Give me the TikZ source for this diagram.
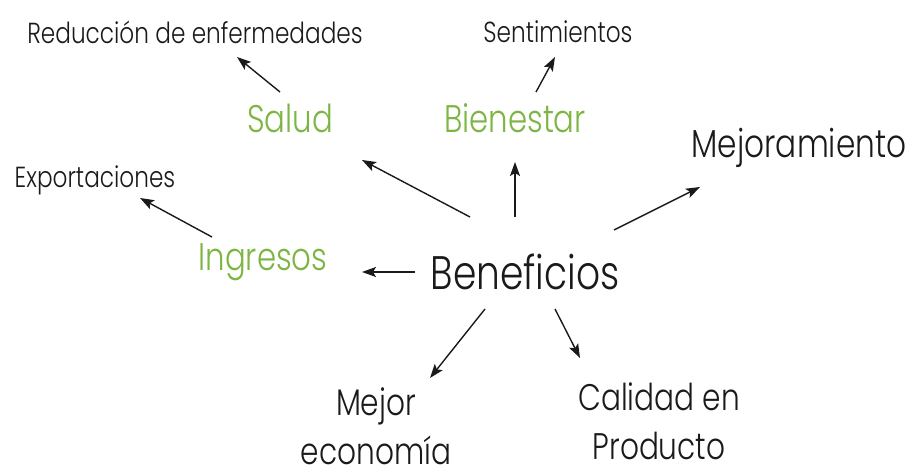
\documentclass[tikz,border=0pt]{standalone}
\usepackage{fontspec}
\setmainfont{Poppins}[UprightFont=* Light, FakeStretch=0.8]
\usetikzlibrary{arrows.meta}
\definecolor{leafgreen}{HTML}{7DB543}
\definecolor{ink}{HTML}{1A1A1A}
\tikzset{
  lbl/.style={inner sep=0pt, text=ink, align=center},
  big/.style={lbl, font=\fontsize{47}{50}\selectfont},
  mid/.style={lbl, font=\fontsize{39}{50}\selectfont},
  two/.style={lbl, font=\fontsize{37}{49}\selectfont},
  grn/.style={lbl, text=leafgreen, font=\fontsize{38.5}{44}\selectfont},
  small/.style={lbl, font=\fontsize{29}{32}\selectfont},
  arr/.style={draw=ink, line width=1.4pt, -{Stealth[length=14pt,width=10pt,inset=3pt]}}
}
\begin{document}
\begin{tikzpicture}[x=1pt,y=-1pt]
\useasboundingbox (0,0) rectangle (914,473);
% nodes
\node[big] (ben) at (525,272) {Beneficios};
\node[grn] (salud) at (290,118) {Salud};
\node[grn] (bien) at (515,118) {Bienestar};
\node[grn] (ing) at (263,262) {Ingresos};
\node[mid] (mejo) at (799,148) {Mejoramiento};
\node[two] (eco) at (376,426) {Mejor\\economía};
\node[two] (cal) at (659,421) {Calidad en\\Producto};
\node[small] (red) at (195,32) {Reducción de enfermedades};
\node[small] (sent) at (558,32) {Sentimientos};
\node[small] (exp) at (95,180) {Exportaciones};
% arrow end points
\coordinate (bSa) at (470,217); \coordinate (eSa) at (362,160);
\coordinate (bBi) at (515,217); \coordinate (eBi) at (515,162);
\coordinate (bMe) at (614,230); \coordinate (eMe) at (700,187);
\coordinate (bIn) at (415,272); \coordinate (eIn) at (362,272);
\coordinate (bEc) at (485,309); \coordinate (eEc) at (430,378);
\coordinate (bCa) at (555,309); \coordinate (eCa) at (580,358);
\coordinate (bRe) at (280,92);  \coordinate (eRe) at (237,57);
\coordinate (bSe) at (536,92);  \coordinate (eSe) at (555,57);
\coordinate (bEx) at (212,237); \coordinate (eEx) at (140,198);
\draw[arr] (bSa) -- (eSa);
\draw[arr] (bBi) -- (eBi);
\draw[arr] (bMe) -- (eMe);
\draw[arr] (bIn) -- (eIn);
\draw[arr] (bEc) -- (eEc);
\draw[arr] (bCa) -- (eCa);
\draw[arr] (bRe) -- (eRe);
\draw[arr] (bSe) -- (eSe);
\draw[arr] (bEx) -- (eEx);
\end{tikzpicture}
\end{document}
